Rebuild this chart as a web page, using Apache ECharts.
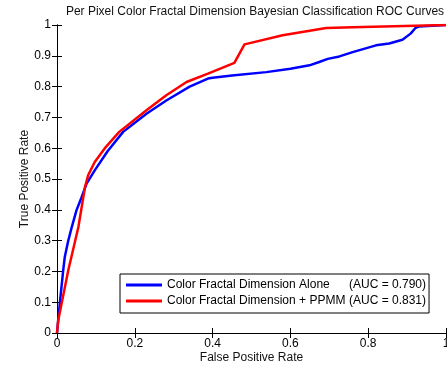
<!DOCTYPE html>
<html>
<head>
<meta charset="utf-8">
<script src="https://cdn.jsdelivr.net/npm/echarts@6/dist/echarts.min.js"></script>
<style>
  html, body { margin: 0; padding: 0; background: #fff; }
  #main { width: 447px; height: 366px; }
</style>
</head>
<body>
<div id="main"></div>
<script>
// ROC data
var fprAlone = [0, 0.008, 0.016, 0.02, 0.029, 0.038, 0.05, 0.063, 0.076, 0.097, 0.13, 0.17, 0.23, 0.281, 0.341, 0.388, 0.40, 0.45, 0.538, 0.60, 0.649, 0.674, 0.696, 0.726, 0.76, 0.82, 0.854, 0.888, 0.909, 0.922, 0.93, 1];
var tprAlone = [0, 0.106, 0.204, 0.247, 0.30, 0.344, 0.398, 0.44, 0.485, 0.528, 0.59, 0.653, 0.712, 0.755, 0.80, 0.826, 0.829, 0.836, 0.847, 0.858, 0.869, 0.88, 0.89, 0.898, 0.912, 0.934, 0.94, 0.952, 0.972, 0.991, 0.995, 1];
var fprPpmm = [0, 0.003, 0.029, 0.055, 0.072, 0.08, 0.097, 0.123, 0.16, 0.23, 0.281, 0.333, 0.388, 0.456, 0.482, 0.58, 0.692, 0.76, 1];
var tprPpmm = [0, 0.04, 0.204, 0.344, 0.474, 0.512, 0.555, 0.60, 0.653, 0.723, 0.772, 0.815, 0.842, 0.877, 0.937, 0.967, 0.99, 0.993, 1];
var seriesNames = ['Color Fractal Dimension Alone', 'Color Fractal Dimension + PPMM'];
var aucLabels = ['(AUC = 0.790)', '(AUC = 0.831)'];

function pairs(xs, ys) {
  return xs.map(function (x, i) { return [x, ys[i]]; });
}

var font = 'Liberation Sans, Arial, sans-serif';
var myChart = echarts.init(document.getElementById('main'));

var tickInside = { show: true, inside: true, length: 5, lineStyle: { color: '#000' } };
var lineBlack = { show: true, lineStyle: { color: '#000', width: 1 } };

myChart.setOption({
  animation: false,
  title: {
    text: 'Per Pixel Color Fractal Dimension Bayesian Classification ROC Curves',
    left: 250, textAlign: 'center', top: 1,
    textStyle: { fontFamily: font, fontSize: 12, fontWeight: 'normal', color: '#111' }
  },
  legend: {
    orient: 'vertical',
    left: 120, top: 274,
    padding: [5, 3, 6, 6],
    itemGap: 4,
    itemWidth: 36, itemHeight: 3,
    icon: 'rect',
    borderColor: '#000', borderWidth: 1,
    backgroundColor: '#fff',
    formatter: function (name) {
      var i = seriesNames.indexOf(name);
      return '{a|' + name + '}{b|' + aucLabels[i] + '}';
    },
    textStyle: {
      fontFamily: font, fontSize: 12, color: '#000',
      rich: {
        a: { width: 182, fontFamily: font, fontSize: 12, color: '#000' },
        b: { fontFamily: font, fontSize: 12, color: '#000' }
      }
    },
    data: seriesNames
  },
  grid: { left: 57, right: 1, top: 25, bottom: 33, containLabel: false, outerBoundsMode: 'none' },
  xAxis: [{
    type: 'value', min: 0, max: 1, interval: 0.2,
    name: 'False Positive Rate', nameLocation: 'middle', nameGap: 19,
    nameMoveOverlap: false,
    nameTextStyle: { fontFamily: font, fontSize: 12, color: '#111' },
    axisLine: lineBlack, axisTick: tickInside,
    axisLabel: { fontFamily: font, fontSize: 12, color: '#000', margin: 5 },
    splitLine: { show: false }
  }, {
    type: 'value', min: 0, max: 1, interval: 0.2, position: 'top',
    axisLine: lineBlack, axisTick: tickInside,
    axisLabel: { show: false }, splitLine: { show: false }
  }],
  yAxis: [{
    type: 'value', min: 0, max: 1, interval: 0.1,
    name: 'True Positive Rate', nameLocation: 'middle', nameGap: 26,
    nameMoveOverlap: false,
    nameTextStyle: { fontFamily: font, fontSize: 12, color: '#111' },
    axisLine: lineBlack, axisTick: tickInside,
    axisLabel: { fontFamily: font, fontSize: 12, color: '#000', margin: 6 },
    splitLine: { show: false }
  }, {
    type: 'value', min: 0, max: 1, interval: 0.1, position: 'right',
    axisLine: lineBlack, axisTick: tickInside,
    axisLabel: { show: false }, splitLine: { show: false }
  }],
  series: [{
    name: seriesNames[0], type: 'line',
    data: pairs(fprAlone, tprAlone),
    showSymbol: false, symbol: 'none',
    lineStyle: { color: '#0000ff', width: 2.5 },
    itemStyle: { color: '#0000ff' }
  }, {
    name: seriesNames[1], type: 'line',
    data: pairs(fprPpmm, tprPpmm),
    showSymbol: false, symbol: 'none',
    lineStyle: { color: '#ff0000', width: 2.5 },
    itemStyle: { color: '#ff0000' }
  }]
});
</script>
</body>
</html>
